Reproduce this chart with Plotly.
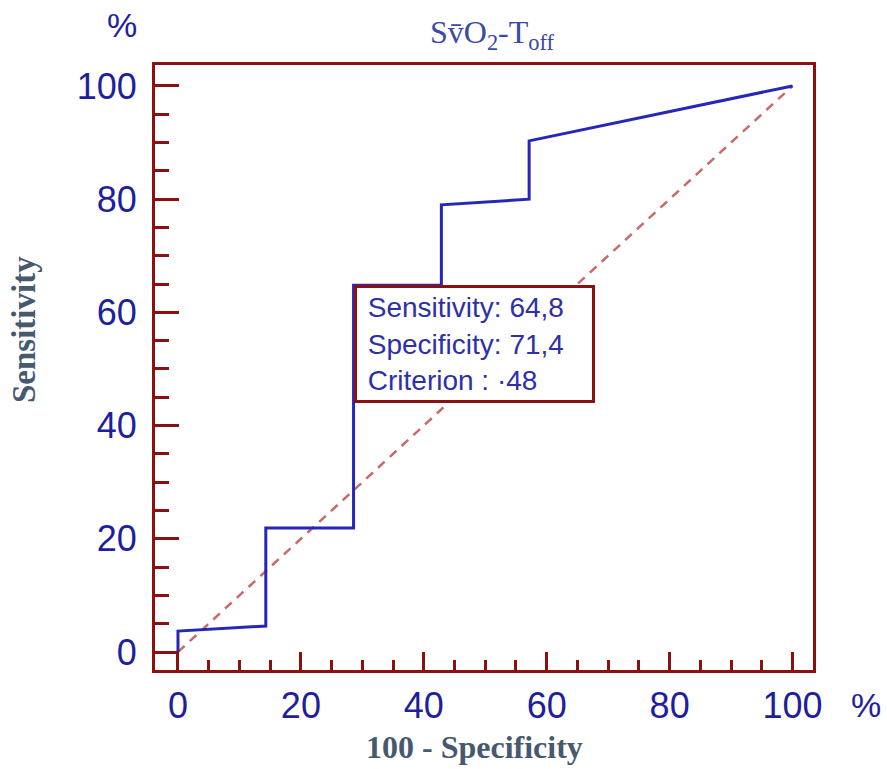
import plotly.graph_objects as go

# ROC curve points (100 - Specificity, Sensitivity)
fpr = [0, 0, 14.29, 14.29, 28.57, 28.57, 42.86, 42.86, 57.14, 57.14, 100]
tpr = [0, 3.7, 4.6, 21.9, 21.9, 64.8, 64.8, 79.0, 80.0, 90.3, 100]
diag_x = [0, 100]
diag_y = [0, 100]
tick_vals = [0, 20, 40, 60, 80, 100]
tick_text = ["0", "20", "40", "60", "80", "100"]
crit_sens = 64.8
crit_spec = 71.4
crit_value = "\u00b748"

FRAME = "#8B1010"
TICKFONT = "#1E1E9E"
TITLEC = "#47596E"

W, H = 887, 769
L, T = 155, 65
R = 887 - 813
B = 769 - 670
pw, ph = W - L - R, H - T - B

fig = go.Figure()
fig.add_trace(go.Scatter(x=diag_x, y=diag_y, mode="lines",
                         line=dict(color="#C86A6A", width=2.5, dash="9px,7px"),
                         hoverinfo="skip", showlegend=False))
fig.add_trace(go.Scatter(x=fpr, y=tpr, mode="lines",
                         line=dict(color="#2626B8", width=3),
                         showlegend=False))

axis_common = dict(
    showgrid=False, zeroline=False, showline=True, mirror=True,
    linecolor=FRAME, linewidth=3, ticks="inside", tickcolor=FRAME, tickwidth=3,
    tickvals=tick_vals, ticktext=tick_text,
    tickfont=dict(family="Liberation Sans, Arial", size=36, color=TICKFONT),
)

fig.update_layout(
    width=W, height=H,
    margin=dict(l=L, r=R, t=T, b=B),
    plot_bgcolor="white", paper_bgcolor="white",
    xaxis=dict(range=[-3.74, 103.33], ticklen=18,
               minor=dict(dtick=5, tick0=0, ticks="inside", ticklen=10,
                          tickcolor=FRAME, tickwidth=3),
               ticklabelstandoff=2, **axis_common),
    yaxis=dict(range=[-3.18, 103.7], ticklen=24,
               minor=dict(dtick=5, tick0=0, ticks="inside", ticklen=14,
                          tickcolor=FRAME, tickwidth=3),
               ticklabelstandoff=8, **axis_common),
)

annotations = [
    # Criterion box anchored at the criterion point
    dict(x=100 - crit_spec, y=crit_sens, xref="x", yref="y",
         xanchor="left", yanchor="top", showarrow=False, align="left", valign="middle",
         width=229, height=106,
         text=(f" Sensitivity: {str(crit_sens).replace('.', ',')}<br>"
               f" Specificity: {str(crit_spec).replace('.', ',')}<br>"
               f" Criterion : {crit_value}"),
         font=dict(family="Liberation Sans, Arial", size=28, color="#2F2FA8"),
         bgcolor="white", bordercolor=FRAME, borderwidth=3, borderpad=3),
    # Title
    dict(x=492, y=34, showarrow=False,
         text="S<span>v\u0304</span>O<sub>2</sub>-T<sub>off</sub>",
         font=dict(family="Liberation Serif, Times New Roman", size=32, color="#3A4AA6")),
    # Axis titles
    dict(x=474, y=747, showarrow=False, text="<b>100 - Specificity</b>",
         font=dict(family="Liberation Serif, Times New Roman", size=32, color=TITLEC)),
    dict(x=24, y=330, showarrow=False, text="<b>Sensitivity</b>", textangle=-90,
         font=dict(family="Liberation Serif, Times New Roman", size=33, color=TITLEC)),
    # Percent units
    dict(x=122, y=25, showarrow=False, text="%",
         font=dict(family="Liberation Sans, Arial", size=34, color=TICKFONT)),
    dict(x=866, y=705, showarrow=False, text="%",
         font=dict(family="Liberation Sans, Arial", size=34, color=TICKFONT)),
]

# convert page-pixel positions to paper coords for non-data annotations
for a in annotations[1:]:
    px, py = a["x"], a["y"]
    a["x"] = (px - L) / pw
    a["y"] = (H - B - py) / ph
    a["xref"] = "paper"
    a["yref"] = "paper"
    a["xanchor"] = "center"
    a["yanchor"] = "middle"

fig.update_layout(annotations=annotations)
fig.write_html("out.html", config={"displayModeBar": False},
               post_script="document.body.style.margin='0';document.body.style.overflow='hidden';")
